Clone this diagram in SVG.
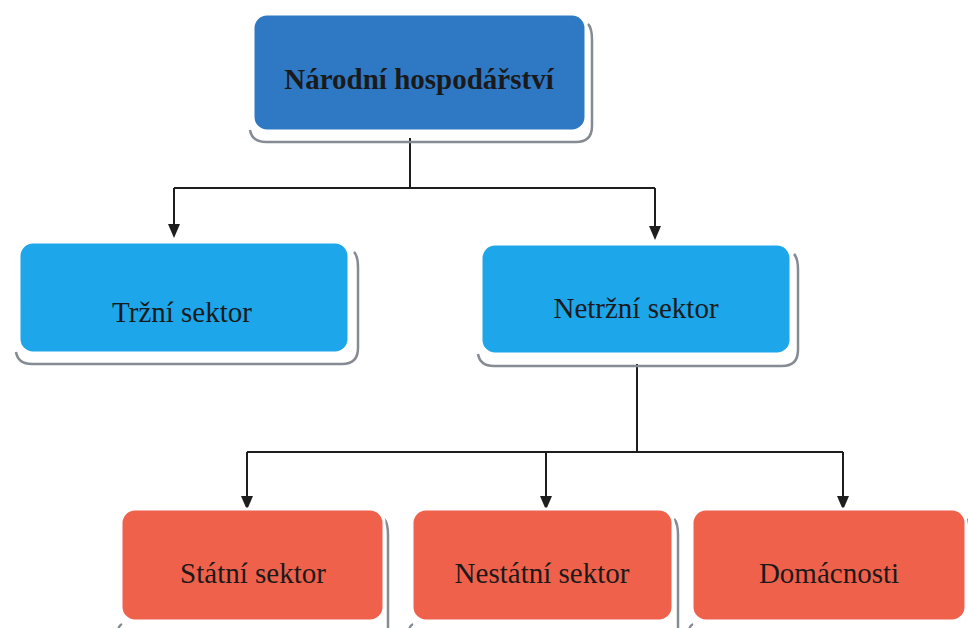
<svg xmlns="http://www.w3.org/2000/svg" width="968" height="628" viewBox="0 0 968 628">
<defs>
<style>
.sh{fill:none;stroke:#858b93;stroke-width:2.5}
.bx{stroke:#ffffff;stroke-width:3}
.top{fill:#2f78c4}
.mid{fill:#1da6ea}
.bot{fill:#f0614c}
.t{font-family:"Liberation Serif","Times New Roman",serif;font-size:29px;fill:#1a1a1a;text-anchor:middle}
.b{font-weight:bold}
.ln{fill:none;stroke:#1e1e1e;stroke-width:2}
.ah{fill:#1e1e1e}
</style>
</defs>
<rect width="968" height="628" fill="#ffffff"/>
<g id="connectors">
<path class="ln" d="M410,138 V188 M174,188 H655"/>
<path class="ln" d="M174,188 V226"/>
<path class="ln" d="M655,188 V228"/>
<path class="ln" d="M637,364 V452 M247,452 H843"/>
<path class="ln" d="M247,452 V498"/>
<path class="ln" d="M546,452 V498"/>
<path class="ln" d="M843,452 V498"/>
<path class="ah" d="M168,224 L180,224 L174,238 Z"/>
<path class="ah" d="M649,226 L661,226 L655,240 Z"/>
<path class="ah" d="M241,496 L253,496 L247,510 Z"/>
<path class="ah" d="M540,496 L552,496 L546,510 Z"/>
<path class="ah" d="M837,496 L849,496 L843,510 Z"/>
</g>
<g id="n1">
<path class="sh" d="M588,24 Q592,28 592,40 V126 Q592,142 576,142 H266 Q252,142 250,130"/>
<rect class="bx top" x="253" y="14" width="333" height="117" rx="14"/>
<text class="t b" x="419" y="89">Národní hospodářství</text>
</g>
<g id="n2">
<path class="sh" d="M354,252 Q358,256 358,268 V348 Q358,364 342,364 H32 Q18,364 16,352"/>
<rect class="bx mid" x="19" y="242" width="330" height="111" rx="14"/>
<text class="t" x="182" y="322">Tržní sektor</text>
</g>
<g id="n3">
<path class="sh" d="M794,254 Q798,258 798,270 V350 Q798,366 782,366 H494 Q480,366 478,354"/>
<rect class="bx mid" x="481" y="244" width="310" height="110" rx="14"/>
<text class="t" x="636" y="318">Netržní sektor</text>
</g>
<g id="n4">
<path class="sh" d="M384,519 Q388,523 388,535 V640"/>
<path class="sh" d="M118,632 Q118,626 122,624"/>
<rect class="bx bot" x="121" y="509" width="263" height="112" rx="14"/>
<text class="t" x="253" y="583">Státní sektor</text>
</g>
<g id="n5">
<path class="sh" d="M674,519 Q678,523 678,535 V640"/>
<path class="sh" d="M409,632 Q409,626 413,624"/>
<rect class="bx bot" x="412" y="509" width="261" height="112" rx="14"/>
<text class="t" x="542" y="583">Nestátní sektor</text>
</g>
<g id="n6">
<path class="sh" d="M967,519 Q970,523 970,535 V640"/>
<path class="sh" d="M689,632 Q689,626 693,624"/>
<rect class="bx bot" x="692" y="509" width="274" height="112" rx="14"/>
<text class="t" x="829" y="583">Domácnosti</text>
</g>
</svg>
